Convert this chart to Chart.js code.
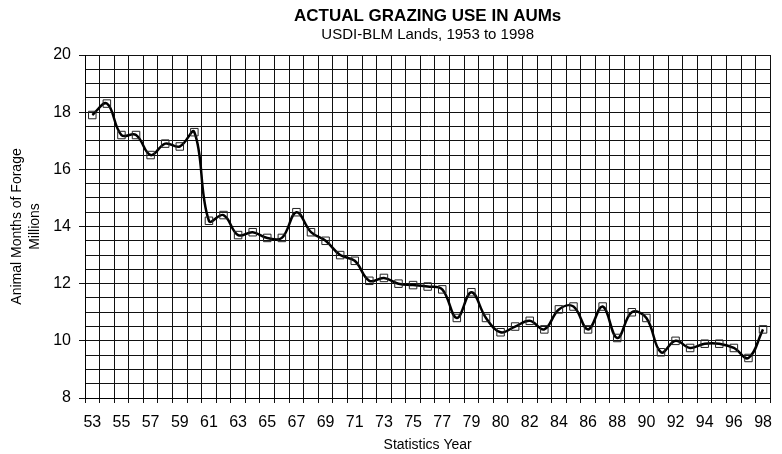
<!DOCTYPE html>
<html>
<head>
<meta charset="utf-8">
<script src="https://cdn.jsdelivr.net/npm/chart.js@4/dist/chart.umd.min.js"></script>
<style>
  html, body { margin: 0; padding: 0; background: #fff; }
  #wrap { width: 782px; height: 454px; }
</style>
</head>
<body>
<div id="wrap"><canvas id="grazing"></canvas></div>
<script>
// Statistics years; the extra category after 79 is in the source chart too
const years = ['53','54','55','56','57','58','59','60','61','62','63','64','65','66','67','68','69','70','71','72',
  '73','74','75','76','77','78','79','79T','80','81','82','83','84','85','86','87','88','89','90','91','92','93',
  '94','95','96','97','98'];
// actual grazing use, millions of AUMs
const aums = [17.9, 18.3, 17.2, 17.2, 16.5, 16.9, 16.8, 17.3, 14.2, 14.4, 13.7, 13.8, 13.6, 13.6, 14.5, 13.8,
  13.5, 13.0, 12.8, 12.1, 12.2, 12.0, 11.95, 11.9, 11.8, 10.8, 11.7, 10.8, 10.3, 10.5, 10.7, 10.4, 11.1, 11.2,
  10.4, 11.2, 10.1, 11.0, 10.8, 9.6, 10.0, 9.75, 9.9, 9.9, 9.75, 9.4, 10.4];
const yMin = 8, yMax = 20, yStep = 0.5, yLabelStep = 2;

const FONT = "'Liberation Sans', Arial, sans-serif";
const INK = '#000';

/** Title + subtitle centred over the plot area, like the original. */
const headings = {
  id: 'headings',
  afterDraw(chart) {
    const { ctx, chartArea: a } = chart;
    const cx = (a.left + a.right) / 2;
    ctx.save();
    ctx.fillStyle = INK;
    ctx.textAlign = 'center';
    ctx.textBaseline = 'middle';
    ctx.font = `bold 17px ${FONT}`;
    ctx.fillText('ACTUAL GRAZING USE IN AUMs', cx, 16);
    ctx.font = `15px ${FONT}`;
    ctx.fillText('USDI-BLM Lands, 1953 to 1998', cx, 35);
    ctx.restore();
  }
};

new Chart(document.getElementById('grazing'), {
  type: 'line',
  data: {
    labels: years,
    datasets: [{
      data: aums,
      borderColor: INK,
      borderWidth: 2.5,
      tension: 0.4,
      pointStyle: 'rect',
      pointRadius: 5.3,
      pointBorderWidth: 1,
      pointBorderColor: '#222',
      pointBackgroundColor: 'rgba(255,255,255,0)',
    }],
  },
  options: {
    responsive: true, maintainAspectRatio: false, animation: false,
    layout: { padding: { top: 55, right: 2, bottom: 0, left: 0 } },
    plugins: { legend: { display: false }, tooltip: { enabled: false }, title: { display: false } },
    scales: {
      x: {
        type: 'category',
        offset: true,
        grid: { offset: true, color: '#111', lineWidth: 1, tickLength: 5, tickColor: '#111' },
        border: { color: INK, width: 1 },
        ticks: {
          autoSkip: false, maxRotation: 0, minRotation: 0, padding: 10,
          color: INK, font: { family: FONT, size: 16 },
          callback: (v, i) => i % 2 === 0 ? years[i] : '',
        },
        title: { display: true, text: 'Statistics Year', color: INK, font: { family: FONT, size: 14 }, padding: { top: 0, bottom: 0 } },
        afterFit: s => { s.height = 56; },
      },
      y: {
        min: yMin, max: yMax,
        grid: {
          color: '#111', lineWidth: 1, tickLength: 6,
          tickColor: c => (c.tick && c.tick.value % yLabelStep === 0) ? '#111' : 'rgba(0,0,0,0)',
        },
        border: { color: INK, width: 1 },
        ticks: {
          stepSize: yStep, maxTicksLimit: 100, autoSkip: false, padding: 8,
          color: INK, font: { family: FONT, size: 16 },
          callback: v => v % yLabelStep === 0 ? v : '',
        },
        title: {
          display: true, text: ['Animal Months of Forage', 'Millions'], color: INK,
          font: { family: FONT, size: 14, lineHeight: 1.29 }, padding: { top: 8, bottom: 0 },
        },
        afterFit: s => { s.width = 85; },
      },
    },
  },
  plugins: [headings],
});
</script>
</body>
</html>
